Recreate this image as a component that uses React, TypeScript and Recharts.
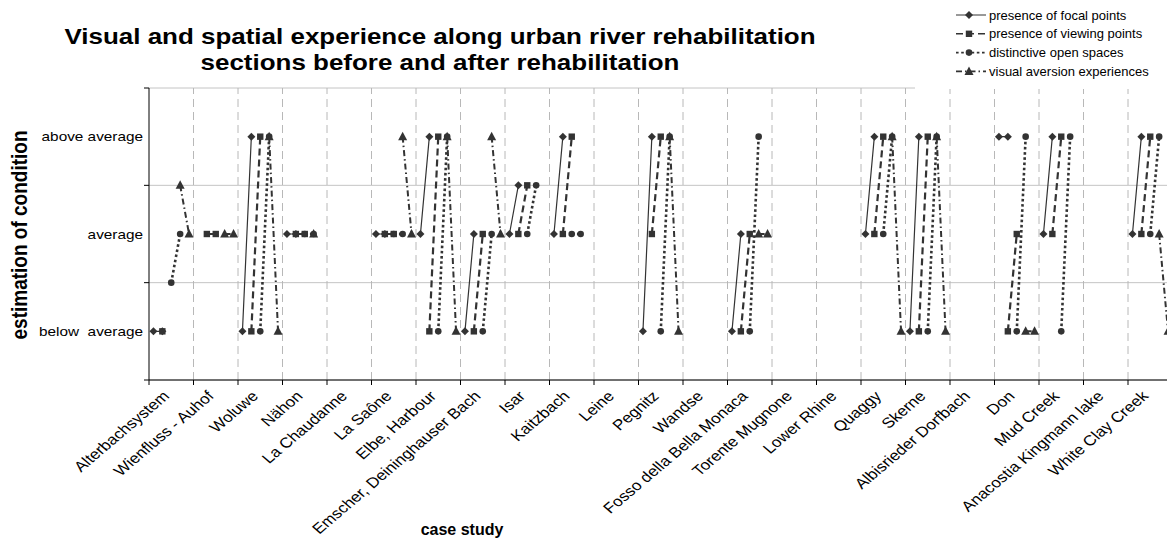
import React from "react";
import { CartesianGrid, Line, LineChart, ReferenceLine, XAxis, YAxis } from "recharts";

const FONT = '"Liberation Sans", Arial, sans-serif';
const INK = "#333333";
// the source picture is stretched sideways, so its text is wider than it is tall
const STRETCH = 1.18;

const categories = [
  "Alterbachsystem",
  "Wienfluss - Auhof",
  "Woluwe",
  "Nähon",
  "La Chaudanne",
  "La Saône",
  "Elbe, Harbour",
  "Emscher, Deininghauser Bach",
  "Isar",
  "Kaitzbach",
  "Leine",
  "Pegnitz",
  "Wandse",
  "Fosso della Bella Monaca",
  "Torente Mugnone",
  "Lower Rhine",
  "Quaggy",
  "Skerne",
  "Albisrieder Dorfbach",
  "Don",
  "Mud Creek",
  "Anacostia Kingmann lake",
  "White Clay Creek",
];

const levels = ["below  average", "average", "above average"];

const N = null;
// [before, after] per case study: 1 = below, 2 = average, 3 = above
const focalPoints = [
  [1, 1], [N, N], [1, 3], [2, 2], [N, N], [2, 2], [2, 3], [1, 2], [2, 2.5], [2, 3], [N, N], [1, 3],
  [N, N], [1, 2], [N, N], [N, N], [2, 3], [1, 3], [N, N], [3, 3], [2, 3], [N, N], [2, 3],
];
const viewingPoints = [
  [1, N], [2, 2], [1, 3], [2, 2], [N, N], [2, 2], [1, 3], [1, 2], [2, 2.5], [2, 3], [N, N], [2, 3],
  [N, N], [1, 2], [N, N], [N, N], [2, 3], [1, 3], [N, N], [1, 2], [2, 3], [N, N], [2, 3],
];
const openSpaces = [
  [1.5, 2], [N, N], [1, 3], [2, 2], [N, N], [2, 2], [1, 3], [1, 2], [2, 2.5], [2, 2], [N, N], [1, 3],
  [N, N], [1, 3], [N, N], [N, N], [2, 3], [1, 3], [N, N], [1, 3], [1, 3], [N, N], [2, 3],
];
const aversion = [
  [2.5, 2], [2, 2], [3, 1], [2, N], [N, N], [3, 2], [3, 1], [3, 2], [N, N], [N, N], [N, N], [3, 1],
  [N, N], [2, 2], [N, N], [N, N], [3, 1], [3, 1], [N, N], [1, 1], [N, N], [N, N], [2, 1],
];

const SERIES = [
  { key: "focal", name: "presence of focal points", values: focalPoints, shape: "diamond", width: 1.2, dash: undefined },
  { key: "viewing", name: "presence of viewing points", values: viewingPoints, shape: "square", width: 2.2, dash: "7 4" },
  { key: "open", name: "distinctive open spaces", values: openSpaces, shape: "circle", width: 2.6, dash: "2.6 2.6" },
  { key: "aversion", name: "visual aversion experiences", values: aversion, shape: "triangle", width: 2, dash: "6 3 1.5 3" },
];

const SLOTS = 5;
const W = 1180;
const H = 550;
const PLOT_LEFT = 149;
const PLOT_RIGHT = 1172.5;
const PLOT_TOP = 88;
const PLOT_BOTTOM = 380;
const CAT_PX = (PLOT_RIGHT - PLOT_LEFT) / categories.length;
const BAND_PX = (PLOT_BOTTOM - PLOT_TOP) / 3;

// series k sits on slots k (before) and k+1 (after) inside every case study
const rows = categories.flatMap((_, c) =>
  Array.from({ length: SLOTS }, (_, s) => {
    const row: Record<string, number | null> = { x: c * SLOTS + s + 0.5 };
    SERIES.forEach((ser, k) => {
      row[ser.key] = s === k ? ser.values[c][0] : s === k + 1 ? ser.values[c][1] : null;
    });
    return row;
  })
);

const boundaries = Array.from({ length: categories.length + 1 }, (_, i) => i * SLOTS);

function Marker({ shape, cx, cy }: { shape: string; cx: number; cy: number }) {
  if (shape === "diamond")
    return <polygon points={`${cx},${cy - 4} ${cx + 4},${cy} ${cx},${cy + 4} ${cx - 4},${cy}`} fill={INK} />;
  if (shape === "square") return <rect x={cx - 3.2} y={cy - 3.2} width={6.4} height={6.4} fill={INK} />;
  if (shape === "circle") return <circle cx={cx} cy={cy} r={3.3} fill={INK} />;
  return <polygon points={`${cx},${cy - 5} ${cx + 4.5},${cy + 3.5} ${cx - 4.5},${cy + 3.5}`} fill={INK} />;
}

function makeDot(shape: string) {
  return (props: any) => {
    const { cx, cy, value, index } = props;
    if (value == null || cy == null || Number.isNaN(cy)) return <g key={index} />;
    return (
      <g key={index}>
        <Marker shape={shape} cx={cx} cy={cy} />
      </g>
    );
  };
}

function CaseTick(props: any) {
  const { x, y, payload } = props;
  const i = Math.round(payload.value / SLOTS);
  if (i >= categories.length) return <g />;
  const ax = x + CAT_PX / 2 - 1;
  const ay = y + 10;
  return (
    <text
      transform={`translate(${ax} ${ay}) scale(${STRETCH} 1) rotate(-45)`}
      textAnchor="end"
      fontSize={14.5}
      fontFamily={FONT}
      fill="#000"
    >
      {categories[i]}
    </text>
  );
}

function LevelTick(props: any) {
  const { x, y, payload } = props;
  const v = payload.value;
  if (v < 1) return <g />;
  return (
    <text
      transform={`translate(${x} ${y + BAND_PX / 2}) scale(${STRETCH} 1)`}
      textAnchor="end"
      dominantBaseline="central"
      fontSize={13}
      fontFamily={FONT}
      fill="#000"
      style={{ whiteSpace: "pre" }}
    >
      {levels[Math.round(v - 1.5)]}
    </text>
  );
}

function LegendBox() {
  return (
    <svg width={260} height={89} style={{ position: "absolute", left: 915, top: 0, background: "#fff" }}>
      {SERIES.map((s, i) => {
        const y = 15 + i * 18.8;
        return (
          <g key={s.key}>
            <line x1={41} x2={71} y1={y} y2={y} stroke={INK} strokeWidth={s.key === "focal" ? 1 : 1.6} strokeDasharray={s.dash} />
            <Marker shape={s.shape} cx={54} cy={y} />
            <text x={74} y={y} dominantBaseline="central" fontSize={13} fontFamily={FONT} fill="#000">
              {s.name}
            </text>
          </g>
        );
      })}
    </svg>
  );
}

export default function App() {
  return (
    <div style={{ position: "absolute", left: 0, top: 0, width: 1167, height: H, overflow: "hidden", background: "#fff" }}>
      <div
        style={{
          position: "absolute",
          left: 0,
          top: 24,
          width: 880,
          textAlign: "center",
          fontFamily: FONT,
          fontWeight: "bold",
          fontSize: 22,
          lineHeight: "26px",
          transform: `scaleX(${STRETCH})`,
          transformOrigin: "440px 0",
        }}
      >
        Visual and spatial experience along urban river rehabilitation
        <br />
        sections before and after rehabilitation
      </div>
      <LineChart width={W} height={H} data={rows} margin={{ top: PLOT_TOP, right: W - PLOT_RIGHT, bottom: 140, left: 0 }}>
        <CartesianGrid vertical={false} stroke="#c4c4c4" />
        {boundaries.slice(1, -1).map((b) => (
          <ReferenceLine key={b} x={b} stroke="#b8b8b8" strokeDasharray="8 5" />
        ))}
        <XAxis
          type="number"
          dataKey="x"
          domain={[0, categories.length * SLOTS]}
          ticks={boundaries}
          interval={0}
          height={30}
          tickSize={5}
          tickMargin={2}
          stroke="#000"
          tick={<CaseTick />}
        />
        <YAxis
          type="number"
          domain={[0.5, 3.5]}
          ticks={[0.5, 1.5, 2.5, 3.5]}
          interval={0}
          width={PLOT_LEFT}
          tickSize={5}
          tickMargin={1}
          stroke="#000"
          tick={<LevelTick />}
        />
        {SERIES.map((s) => (
          <Line
            key={s.key}
            dataKey={s.key}
            name={s.name}
            type="linear"
            stroke={INK}
            strokeWidth={s.width}
            strokeDasharray={s.dash}
            dot={makeDot(s.shape)}
            activeDot={false}
            connectNulls={false}
            isAnimationActive={false}
          />
        ))}
      </LineChart>
      <LegendBox />
      <div
        style={{
          position: "absolute",
          left: 20,
          top: 235,
          transform: `translate(-50%, -50%) scale(${STRETCH}, 1) rotate(-90deg)`,
          whiteSpace: "nowrap",
          fontFamily: FONT,
          fontWeight: "bold",
          fontSize: 19,
        }}
      >
        estimation of condition
      </div>
      <div
        style={{
          position: "absolute",
          left: 462,
          top: 530,
          transform: "translate(-50%, -50%)",
          whiteSpace: "nowrap",
          fontFamily: FONT,
          fontWeight: "bold",
          fontSize: 16,
        }}
      >
        case study
      </div>
    </div>
  );
}
